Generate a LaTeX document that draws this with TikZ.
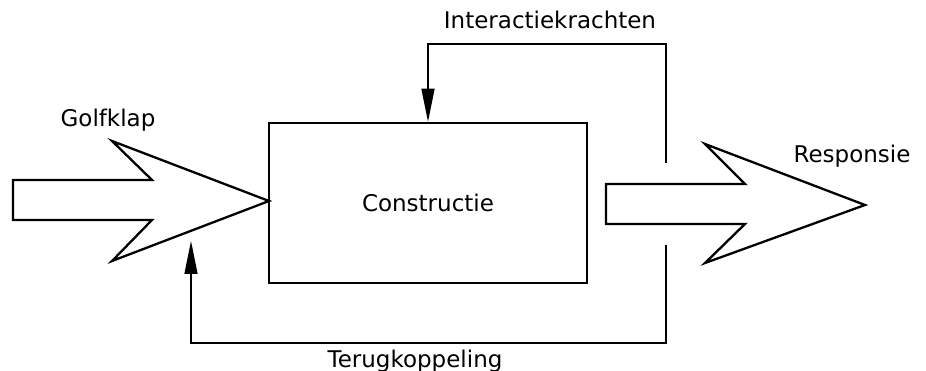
\documentclass[tikz,border=0pt]{standalone}
\usepackage{fontspec}
\setmainfont{DejaVu Sans}
\usetikzlibrary{arrows.meta}
\begin{document}
\begin{tikzpicture}[x=1pt,y=-1pt,
        fat/.style={line width=2.3pt,line join=miter},
        conn/.style={line width=1.4pt},
        tip/.style={-{Triangle[length=33pt,width=13pt]}},
        lbl/.style={font=\fontsize{23}{27}\selectfont,anchor=base,inner sep=0pt}]
                \useasboundingbox (0,0) rectangle (926,371) ;
                % blok in het midden
                \node [draw,line width=2.5pt,minimum width=318pt,minimum height=160pt,
                       font=\fontsize{23}{27}\selectfont] (constr) at (428,203) {Constructie} ;
                % dikke pijlen in en uit
                \draw [fat] (13,180) -- (152,180) -- (112,141) -- (269,201) -- (112,261) -- (152,220) -- (13,220) -- cycle ;
                \draw [fat] (606,184) -- (745,184) -- (705,144) -- (865,205) -- (705,263) -- (745,224) -- (606,224) -- cycle ;
                % terugkoppellussen
                \coordinate (ia) at (666,163) ;
                \coordinate (itop) at (666,44) ;
                \coordinate (fb) at (666,245) ;
                \coordinate (fbot) at (666,343) ;
                \coordinate (fend) at (191,241) ;
                \draw [conn,tip] (ia) -- (itop) -| (constr.north) ;
                \draw [conn,tip] (fb) -- (fbot) -| (fend) ;
                % teksten
                \node [lbl] (golf) at (108,127) {Golfklap} ;
                \node [lbl] (resp) at (852,163) {Responsie} ;
                \node [lbl] (inter) at (550,29) {Interactiekrachten} ;
                \node [lbl] (terug) at (415,367) {Terugkoppeling} ;
\end{tikzpicture}
\end{document}
